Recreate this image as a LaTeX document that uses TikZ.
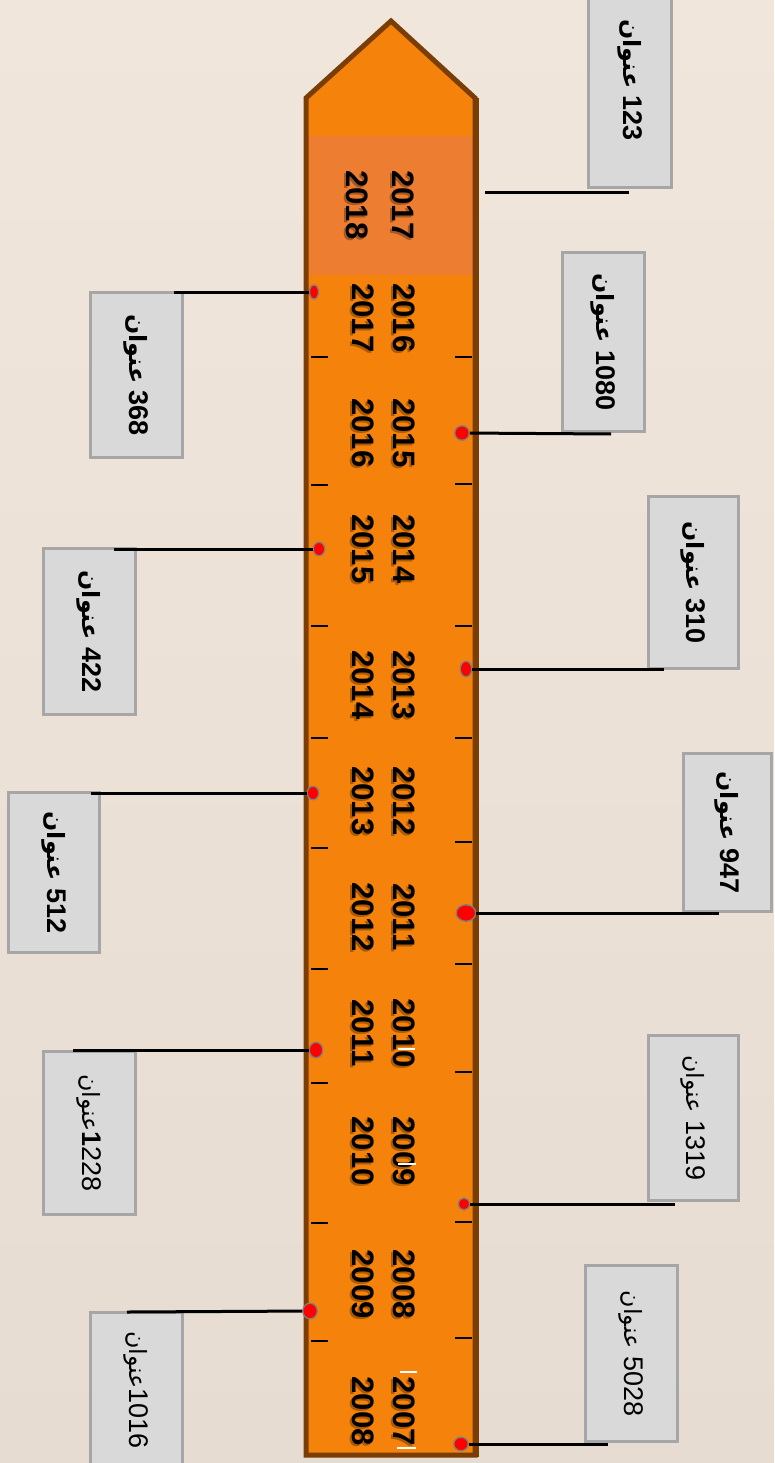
\documentclass[tikz,border=0pt]{standalone}
\usepackage{fontspec}
\usetikzlibrary{shapes.geometric}
\setmainfont{Liberation Sans}
\newfontfamily\arabicfont[Script=Arabic,Scale=0.88]{DejaVu Sans}
\TeXXeTstate=1
\definecolor{bgtop}{HTML}{F0E6DC}
\definecolor{bgbot}{HTML}{E6DCD2}
\definecolor{barorange}{HTML}{F5820A}
\definecolor{hilite}{HTML}{ED7D31}
\definecolor{barline}{HTML}{7A3E05}
\definecolor{boxfill}{HTML}{D9D9D9}
\definecolor{boxline}{HTML}{A6A6A6}
\definecolor{dotline}{HTML}{7F7F7F}
\newcommand{\ar}{\arabicfont\mdseries\beginR عنوان\endR}
\newcommand{\arb}{\arabicfont\bfseries\beginR عنوان\endR}
\begin{document}
\begin{tikzpicture}[x=1pt,y=-1pt,
  yrs/.style={font=\fontsize{31}{41}\selectfont\bfseries, align=center, rotate=-90, inner sep=0pt, text=black},
  yrshadow/.style={yrs, text=black, opacity=0.3},
  infobox/.style={draw=boxline, fill=boxfill, line width=3pt, rotate=-90, inner sep=0pt,
    font=\fontsize{27}{30}\selectfont, align=center},
  dot/.style={ellipse, fill=red, draw=dotline, line width=1.3pt, inner sep=0pt},
  conn/.style={draw=black, line width=3pt},
  tick/.style={draw=black, line width=1.6pt},
  cursor/.style={draw=white, line width=1.5pt}]
\useasboundingbox (0,0) rectangle (774,1463);
\clip (0,0) rectangle (774,1463);
\shade[top color=bgtop, bottom color=bgbot] (0,0) rectangle (774,1463);

% bar
\fill[barorange] (306,98) -- (391,21) -- (475,98) -- (475,1455) -- (306,1455) -- cycle;
\fill[hilite] (308.5,136) rectangle (472.5,275);
\draw[barline, line width=5pt, line join=miter] (306,98) -- (391,21) -- (475,98) -- (475,1455) -- (306,1455) -- cycle;
\draw[barline, line width=3pt] (477.5,98) -- (477.5,1457);

% ticks
\foreach \t in {357,485,626,738,848,969,1083,1223,1341} \draw[tick] (311,\t) -- (328,\t);
\foreach \t in {357,484,626,738,842,964,1072,1222,1338} \draw[tick] (455,\t) -- (472,\t);

% years
\node[yrshadow, font=\fontsize{31}{46}\selectfont\bfseries] (ys0) at (378,207) {2017\\2018};
\node[yrs, font=\fontsize{31}{46}\selectfont\bfseries] (y0) at (380,205) {2017\\2018};
\foreach \n/\yy/\a/\b in {1/318/2016/2017, 2/433/2015/2016, 3/549/2014/2015, 4/685/2013/2014,
  5/801/2012/2013, 6/917/2011/2012, 7/1033/2010/2011, 8/1151/2009/2010, 9/1284/2008/2009, 10/1411/2007/2008}{
  \node[yrshadow] (ys\n) at (382,\yy+2) {\a\\\b};
  \node[yrs] (y\n) at (384,\yy) {\a\\\b};
}
% cursor marks
\draw[cursor] (398,1049) -- (415,1049);
\draw[cursor] (398,1164) -- (416,1164);
\draw[cursor] (400,1372) -- (417,1372);
\draw[cursor] (397,1448) -- (416,1448);

% boxes
\node[infobox, minimum width=215pt, minimum height=83pt] (b123) at (630,80) {{\arb}\ \textbf{123}};
\node[infobox, minimum width=179pt, minimum height=82pt] (b1080) at (603.5,342) {{\arb}\ \textbf{1080}};
\node[infobox, minimum width=165pt, minimum height=92pt] (b368) at (136.5,375) {{\arb}\ \textbf{368}};
\node[infobox, minimum width=166pt, minimum height=92pt] (b422) at (89.5,631.5) {{\arb}\ \textbf{422}};
\node[infobox, minimum width=172pt, minimum height=90pt] (b310) at (693.5,582.5) {{\arb}\ \textbf{310}};
\node[infobox, minimum width=158pt, minimum height=88pt] (b947) at (727.5,832.5) {{\arb}\ \textbf{947}};
\node[infobox, minimum width=160pt, minimum height=91pt] (b512) at (54,872.5) {{\arb}\ \textbf{512}};
\node[infobox, minimum width=163pt, minimum height=92pt] (b1228) at (89.5,1133) {{\ar}\textbf{1}228};
\node[infobox, minimum width=155pt, minimum height=92pt] (b1016) at (136.5,1390) {{\ar}1016};
\node[infobox, minimum width=165pt, minimum height=90pt] (b1319) at (693.5,1118) {{\ar}\ 1319};
\node[infobox, minimum width=176pt, minimum height=92pt] (b5028) at (631.5,1353.5) {{\ar}\ 5028};

% connector ends
\coordinate (s123) at (485,193);
\coordinate (e123) at (629,193);
\coordinate (e1080) at (611,434);
\coordinate (e310) at (664,669);
\coordinate (e947) at (719,913);
\coordinate (e1319) at (675,1204);
\coordinate (e5028) at (608,1444);
\coordinate (e368) at (174,292);
\coordinate (e422) at (114,549);
\coordinate (e512) at (91,793);
\coordinate (e1228) at (73,1050);
\coordinate (e1016) at (127,1312);

% dots
\node[dot, minimum width=14.5pt, minimum height=14.5pt] (dr1) at (462,433) {};
\node[dot, minimum width=11.5pt, minimum height=15.5pt] (dr2) at (466,669) {};
\node[dot, minimum width=19.5pt, minimum height=16.5pt] (dr3) at (466,913) {};
\node[dot, minimum width=11pt, minimum height=12pt] (dr4) at (464,1204) {};
\node[dot, minimum width=14.5pt, minimum height=13.5pt] (dr5) at (461,1444) {};
\node[dot, minimum width=9pt, minimum height=14pt] (dl1) at (314,292) {};
\node[dot, minimum width=11.5pt, minimum height=13.5pt] (dl2) at (319,549) {};
\node[dot, minimum width=11.5pt, minimum height=13.5pt] (dl3) at (313,793) {};
\node[dot, minimum width=13.5pt, minimum height=15.5pt] (dl4) at (316,1050) {};
\node[dot, minimum width=14.5pt, minimum height=15.5pt] (dl5) at (310,1311) {};

% connectors
\draw[conn] (s123) -- (e123);
\draw[conn] (dr1) -- (e1080);
\draw[conn] (dr2) -- (e310);
\draw[conn] (dr3) -- (e947);
\draw[conn] (dr4) -- (e1319);
\draw[conn] (dr5) -- (e5028);
\draw[conn] (dl1) -- (e368);
\draw[conn] (dl2) -- (e422);
\draw[conn] (dl3) -- (e512);
\draw[conn] (dl4) -- (e1228);
\draw[conn] (dl5) -- (e1016);
\end{tikzpicture}
\end{document}
